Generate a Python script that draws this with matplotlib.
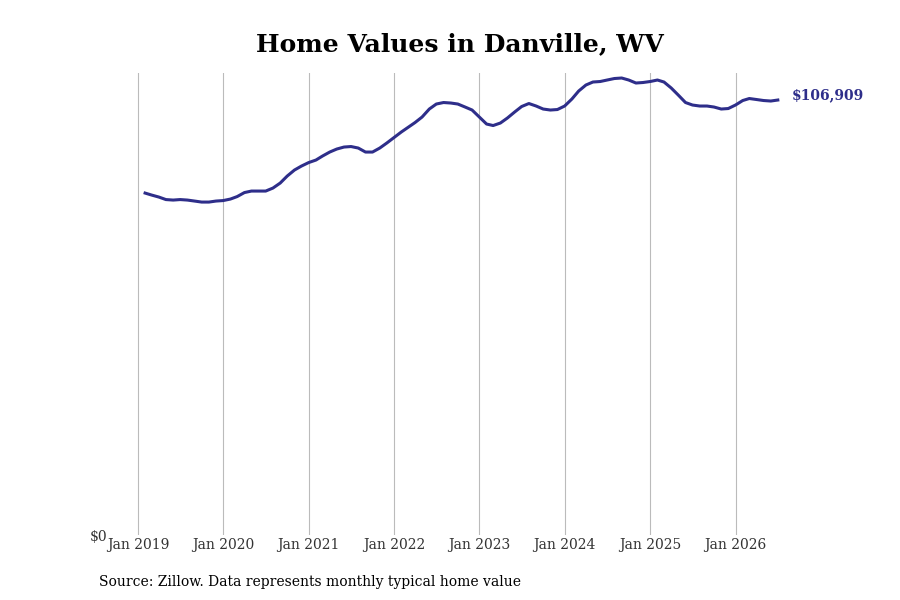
import pandas as pd
import numpy as np
import matplotlib
matplotlib.use('Agg')
import matplotlib.pyplot as plt
import matplotlib.dates as mdates

plt.rcParams['font.family'] = ['DejaVu Serif']

# monthly typical home value, Feb 2019 - Jul 2026
months = pd.date_range('2019-02-01', periods=90, freq='MS')
values = [
    # 2019 (Feb-Dec)
    84053, 83562, 83070, 82455, 82333, 82455, 82333, 82087, 81841, 81841, 82087,
    # 2020
    82210, 82579, 83193, 84176, 84545, 84545, 84545, 85282, 86511, 88231, 89706, 90689,
    # 2021
    91549, 92164, 93147, 94130, 94867, 95359, 95482, 95113, 94130, 94130, 95113, 96342,
    # 2022
    97694, 99045, 100151, 101380, 102732, 104698, 105927, 106296, 106173, 105927, 105189, 104452,
    # 2023
    102732, 101012, 100643, 101257, 102486, 103961, 105313, 106050, 105436, 104698, 104452, 104575,
    # 2024
    105436, 107156, 109119, 110597, 111334, 111457, 111826, 112194, 112317, 111826, 111088, 111211,
    # 2025
    111457, 111826, 111334, 109860, 108136, 106296, 105681, 105435, 105435, 105189, 104697, 104820,
    # 2026 (Jan-Jul)
    105681, 106788, 107279, 107033, 106788, 106665, 106909,
]
tick_years = list(range(2019, 2027))
tick_labels = ['Jan %d' % y for y in tick_years]

line_color = '#2e2e8a'

fig = plt.figure(figsize=(9, 6), dpi=100)
ax = fig.add_axes([0.122, 0.108, 0.756, 0.77])

ax.plot(months, values, color=line_color, linewidth=2.2)

ticks = [pd.Timestamp('%d-01-01' % y) for y in tick_years]
ax.set_xticks(ticks)
ax.set_xticklabels(tick_labels, fontsize=10, color='#333333')
ax.set_xlim(pd.Timestamp('2018-09-03'), pd.Timestamp('2026-08-23'))
ax.set_ylim(0, 113500)
ax.set_yticks([0])
ax.set_yticklabels(['$0'], fontsize=10, color='#333333')
ax.tick_params(axis='x', length=0, pad=2)
ax.tick_params(axis='y', length=0, pad=2)
ax.grid(axis='x', color='#bbbbbb', linewidth=0.8)
ax.grid(axis='y', visible=False)
for s in ax.spines.values():
    s.set_visible(False)

ax.annotate('$%s' % format(values[-1], ','), xy=(months[-1], values[-1]),
            xytext=(14, 5), textcoords='offset pixels', va='center', ha='left',
            fontsize=10, fontweight='bold', color=line_color)

fig.text(460 / 900, 1 - 44 / 600, 'Home Values in Danville, WV', ha='center', va='center',
         fontsize=18, fontweight='bold')
fig.text(99 / 900, 1 - 582 / 600, 'Source: Zillow. Data represents monthly typical home value',
         ha='left', va='center', fontsize=10)

plt.savefig('out.png', dpi=100)
